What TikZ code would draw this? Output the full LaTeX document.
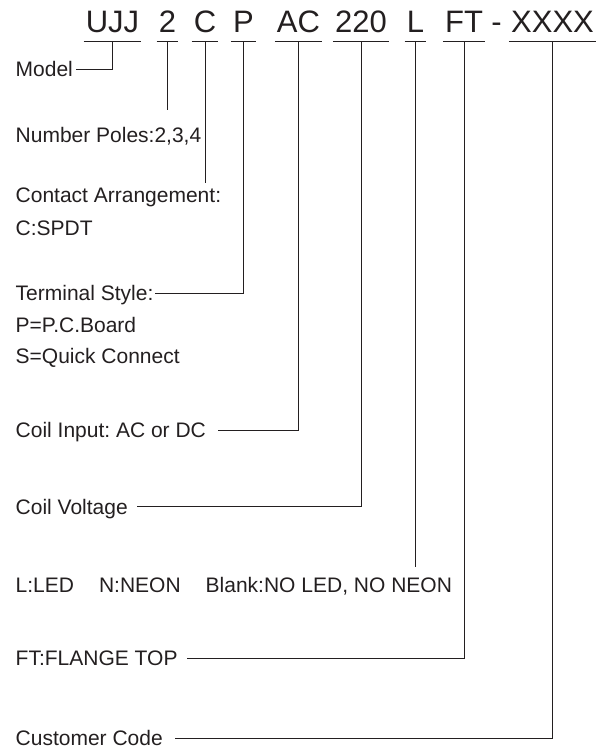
\documentclass[tikz,border=0pt]{standalone}
\usepackage{fontspec}
\setmainfont{Liberation Sans}
\frenchspacing
\usetikzlibrary{positioning, calc}
\definecolor{inkgray}{HTML}{231F20}

\begin{document}
\begin{tikzpicture}[x=1pt, y=-1pt,
  codepart/.style={font=\fontsize{31}{31}\selectfont, text=inkgray, inner xsep=2pt, inner ysep=0pt, text depth=8.7pt, anchor=base},
  desc/.style={font=\fontsize{21}{21}\selectfont, text=inkgray, inner sep=0pt, text height=15pt, text depth=0pt, anchor=base west},
  lead/.style={draw=inkgray, line width=1pt}]
\useasboundingbox (0,0) rectangle (608,752);

% Part number
\node[codepart] (ujj) at (112.5,33) {UJJ};
\node[codepart] (poles) at (167.5,33) {2};
\node[codepart] (contact) at (205,33) {C};
\node[codepart] (term) at (243.5,33) {P};
\node[codepart] (input) at (298.5,33) {AC};
\node[codepart] (volt) at (361,33) {220};
\node[codepart] (lamp) at (415.5,33) {L};
\node[codepart] (flange) at (464,33) {FT};
\node[codepart] (dash) at (496.5,33) {-};
\node[codepart] (cust) at (552.5,33) {XXXX};

% Underlines
\foreach \p in {ujj, poles, contact, term, input, volt, lamp, flange, cust}
  \draw[lead] (\p.south west) -- (\p.south east);

% Descriptions
\node[desc] (model) at (15.5,77) {Model};
\node[desc] (polesl) at (15.5,142.5) {Number Poles:2,3,4};
\node[desc] (contactl) at (15.5,202) {Contact Arrangement:};
\node[desc] (contactl2) at (15.5,235) {C:SPDT};
\node[desc] (terml) at (15.5,300.5) {Terminal Style:};
\node[desc] (terml2) at (15.5,332.5) {P=P.C.Board};
\node[desc] (terml3) at (15.5,363.5) {S=Quick Connect};
\node[desc] (inputl) at (15.5,437.5) {Coil Input: AC or DC};
\node[desc] (voltl) at (15.5,514) {Coil Voltage};
\node[desc] (lampl) at (15.5,592) {L:LED\hspace{25pt}N:NEON\hspace{25pt}Blank:NO LED, NO NEON};
\node[desc] (flangel) at (15.5,665.5) {FT:FLANGE TOP};
\node[desc] (custl) at (15.5,745.5) {Customer Code};

% Free ends
\coordinate (poles-end) at (167.5,110);
\coordinate (contact-end) at (205,183);
\coordinate (lamp-end) at (415.5,567);

% Leaders
\draw[lead] (ujj.south) |- ([xshift=3pt]model.east);
\draw[lead] (poles.south) -- (poles-end);
\draw[lead] (contact.south) -- (contact-end);
\draw[lead] (term.south) |- ([xshift=1.5pt]terml.east);
\draw[lead] (input.south) |- ([xshift=12pt]inputl.east);
\draw[lead] (volt.south) |- ([xshift=9pt]voltl.east);
\draw[lead] (lamp.south) -- (lamp-end);
\draw[lead] (flange.south) |- ([xshift=9pt]flangel.east);
\draw[lead] (cust.south) |- ([xshift=12pt]custl.east);

\end{tikzpicture}
\end{document}
